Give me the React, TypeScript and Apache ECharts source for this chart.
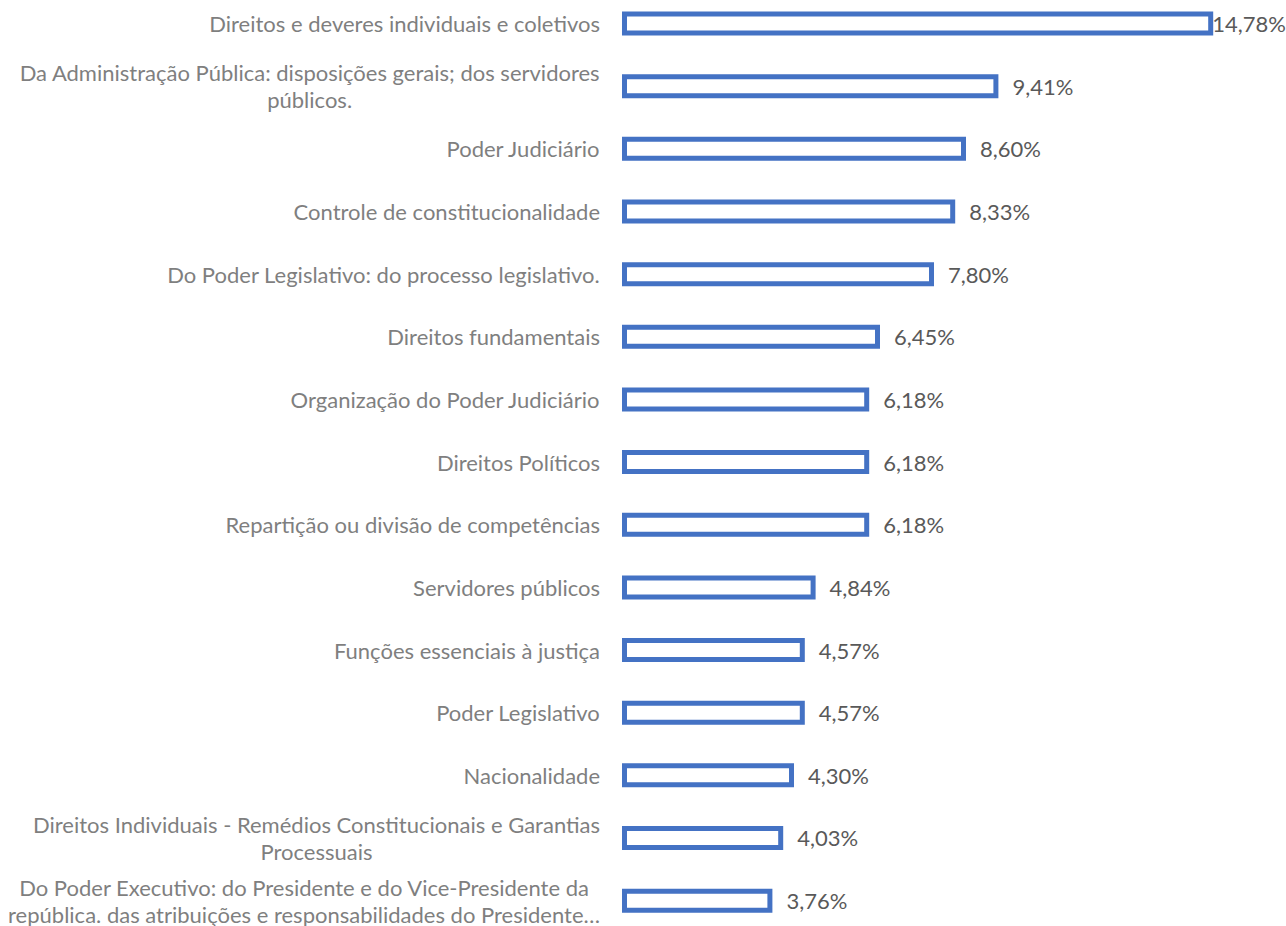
import React, { useEffect, useRef } from "react";
import * as echarts from "echarts";

const categories: string[] = [
  "Direitos e deveres individuais e coletivos",
  "Da Administração Pública: disposições gerais; dos servidores\npúblicos.",
  "Poder Judiciário",
  "Controle de constitucionalidade",
  "Do Poder Legislativo: do processo legislativo.",
  "Direitos fundamentais",
  "Organização do Poder Judiciário",
  "Direitos Políticos",
  "Repartição ou divisão de competências",
  "Servidores públicos",
  "Funções essenciais à justiça",
  "Poder Legislativo",
  "Nacionalidade",
  "Direitos Individuais - Remédios Constitucionais e Garantias\nProcessuais",
  "Do Poder Executivo: do Presidente e do Vice-Presidente da\nrepública. das atribuições e responsabilidades do Presidente…",
];

const values: number[] = [
  14.78, 9.41, 8.6, 8.33, 7.8, 6.45, 6.18, 6.18, 6.18, 4.84, 4.57, 4.57, 4.3, 4.03, 3.76,
];

const FONT = "Lato";
const OFFSET = 20;

export default function App() {
  const ref = useRef<HTMLDivElement>(null);
  useEffect(() => {
    if (!ref.current) return;
    const chart = echarts.init(ref.current, null, { renderer: "svg" });
    chart.setOption({
      animation: false,
      backgroundColor: "#ffffff",
      grid: { left: 622, top: OFFSET - 7.8, width: 16 * 40, height: 15 * 62.65, containLabel: false },
      xAxis: {
        type: "value",
        min: 0,
        max: 16,
        show: false,
        splitLine: { show: false },
      },
      yAxis: {
        type: "category",
        data: categories,
        inverse: true,
        axisLine: { show: false },
        axisTick: { show: false },
        axisLabel: {
          interval: 0,
          margin: 22,
          align: "right",
          formatter: (v: string) =>
            v
              .split("\n")
              .map((l) => `{c|${l}}`)
              .join("\n"),
          rich: {
            c: {
              align: "center",
              fontFamily: FONT,
              fontSize: 22,
              lineHeight: 27,
              color: "#7f7f7f",
            },
          },
        },
      },
      series: [
        {
          type: "bar",
          barWidth: 24,
          data: values.map((v, i) =>
            i === 0
              ? { value: v, label: { distance: -1 } }
              : { value: v }
          ),
          itemStyle: {
            color: "#ffffff",
            borderColor: "#4472C4",
            borderWidth: 5,
          },
          label: {
            show: true,
            position: "right",
            distance: 14,
            fontFamily: FONT,
            fontSize: 22,
            color: "#595959",
            formatter: (p: any) => p.value.toFixed(2).replace(".", ",") + "%",
          },
        },
      ],
    });
    return () => chart.dispose();
  }, []);
  return (
    <div
      ref={ref}
      style={{ position: "fixed", left: 0, top: -OFFSET, width: 1286, height: 926 + 2 * OFFSET }}
    />
  );
}
